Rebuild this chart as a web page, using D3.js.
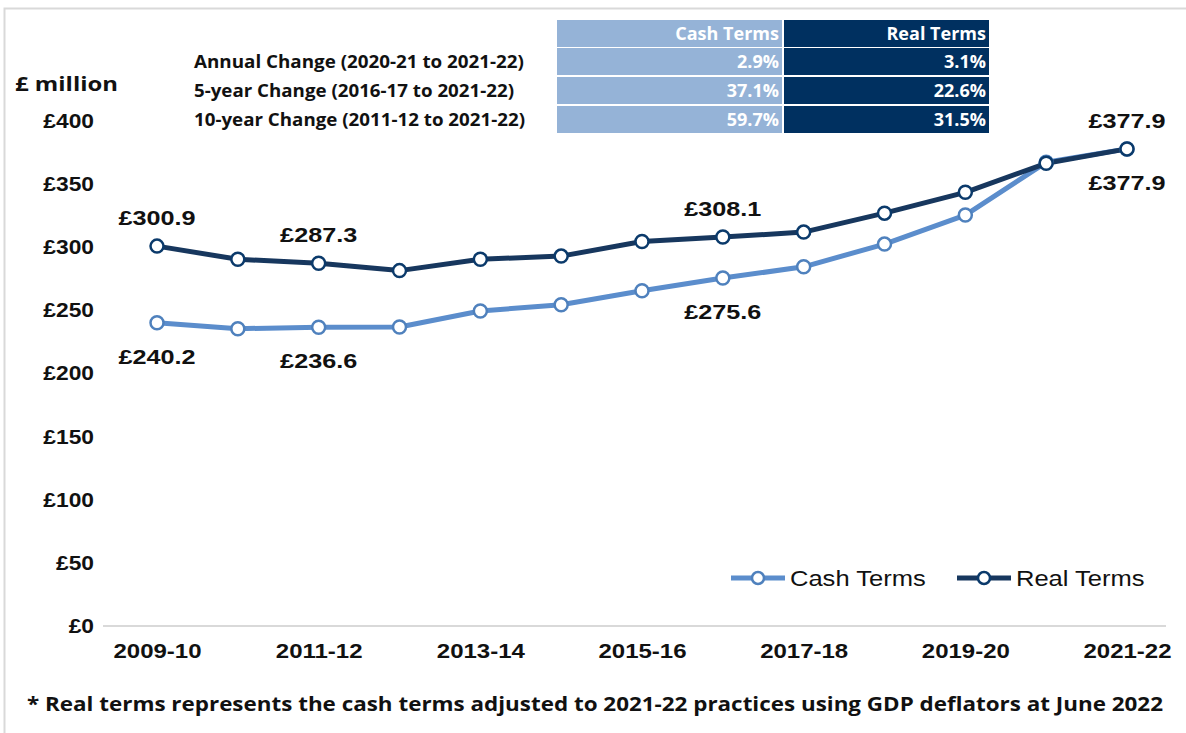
<!DOCTYPE html>
<html>
<head>
<meta charset="utf-8">
<script src="https://cdn.jsdelivr.net/npm/d3@7"></script>
<style>
  body { margin: 0; background: #fff; }
  svg { display: block; }
</style>
</head>
<body>
<div id="chart"></div>
<script>
// Data
const years = ["2009-10", "2010-11", "2011-12", "2012-13", "2013-14", "2014-15", "2015-16",
    "2016-17", "2017-18", "2018-19", "2019-20", "2020-21", "2021-22"];
const cashTerms = [240.2, 235.5, 236.6, 236.8, 249.5, 254.5, 265.5, 275.6, 284.5, 302.5, 325.5, 367.3, 377.9];
const realTerms = [300.9, 290.5, 287.3, 281.5, 290.5, 293.0, 304.5, 308.1, 312.0, 327.0, 343.5, 366.5, 377.9];
const yTicks = [0, 50, 100, 150, 200, 250, 300, 350, 400];
const xTickLabels = ["2009-10", "2011-12", "2013-14", "2015-16", "2017-18", "2019-20", "2021-22"];

// Labelled points: [year, value, series, position]
const pointLabels = [
    ["2009-10", 300.9, "real", "above"],
    ["2011-12", 287.3, "real", "above"],
    ["2016-17", 308.1, "real", "above"],
    ["2021-22", 377.9, "real", "above"],
    ["2009-10", 240.2, "cash", "below"],
    ["2011-12", 236.6, "cash", "below"],
    ["2016-17", 275.6, "cash", "below"],
    ["2021-22", 377.9, "cash", "below"]
];

// Summary table
const tableHeaders = ["Cash Terms", "Real Terms"];
const tableRowLabels = ["Annual Change (2020-21 to 2021-22)", "5-year Change (2016-17 to 2021-22)", "10-year Change (2011-12 to 2021-22)"];
const tableCash = ["2.9%", "37.1%", "59.7%"];
const tableReal = ["3.1%", "22.6%", "31.5%"];

const footnote = "* Real terms represents the cash terms adjusted to 2021-22 practices using GDP deflators at June 2022";

const W = 1186, H = 733;
const cashColor = "#5b8dcc", realColor = "#17375e";
const cashMarker = "#4f81bd", realMarker = "#0b3a6b";
const cashCell = "#95b3d7", realCell = "#003060";
const arial = "'Liberation Sans', Arial, sans-serif";
const calibri = "'Open Sans', 'Noto Sans', sans-serif";

// the source glyphs are a bit wider than ours, so widen text a little
function stretch(sel, k) {
    sel.each(function () {
        const len = this.getComputedTextLength();
        d3.select(this)
            .attr("textLength", len * k)
            .attr("lengthAdjust", "spacingAndGlyphs");
    });
}

const svg = d3.select("#chart").append("svg")
    .attr("width", W)
    .attr("height", H);

// Outer frame
svg.append("rect")
    .attr("x", 4.5).attr("y", 8.5)
    .attr("width", 1300).attr("height", 900)
    .attr("fill", "none")
    .attr("stroke", "#d9d9d9")
    .attr("stroke-width", 2);

// Scales
const x = d3.scalePoint()
    .domain(years)
    .range([157, 1127]);

const y = d3.scaleLinear()
    .domain([0, 400])
    .range([626, 121]);

// Baseline
svg.append("line")
    .attr("x1", 103).attr("x2", 1166)
    .attr("y1", y(0)).attr("y2", y(0))
    .attr("stroke", "#d9d9d9")
    .attr("stroke-width", 2);

// Y axis labels
const yAxis = svg.append("g")
    .attr("transform", "translate(94,0)")
    .call(d3.axisLeft(y).tickValues(yTicks).tickSize(0).tickPadding(0).tickFormat(d => "£" + d));
yAxis.select(".domain").remove();
yAxis.selectAll("text")
    .attr("font-family", arial)
    .attr("font-size", 20)
    .attr("font-weight", "bold")
    .attr("fill", "#111")
    .call(stretch, 1.14);

// X axis labels
const xAxis = svg.append("g")
    .attr("transform", "translate(0,644)")
    .call(d3.axisBottom(x).tickValues(xTickLabels).tickSize(0).tickPadding(0));
xAxis.select(".domain").remove();
xAxis.selectAll("text")
    .attr("font-family", arial)
    .attr("font-size", 20)
    .attr("font-weight", "bold")
    .attr("fill", "#111")
    .call(stretch, 1.2);

// Axis title
svg.append("text")
    .attr("x", 15).attr("y", 91)
    .attr("font-family", calibri)
    .attr("font-size", 20)
    .attr("font-weight", "bold")
    .attr("fill", "#111")
    .attr("textLength", 103)
    .attr("lengthAdjust", "spacingAndGlyphs")
    .text("£ million");

// Lines
const line = d3.line()
    .x((d, i) => x(years[i]))
    .y(d => y(d));

const series = [
    { key: "cash", values: cashTerms, color: cashColor, marker: cashMarker },
    { key: "real", values: realTerms, color: realColor, marker: realMarker }
];

series.forEach(s => {
    svg.append("path")
        .datum(s.values)
        .attr("fill", "none")
        .attr("stroke", s.color)
        .attr("stroke-width", 5)
        .attr("stroke-linejoin", "round")
        .attr("d", line);
});

series.forEach(s => {
    svg.selectAll(null)
        .data(s.values)
        .enter()
        .append("circle")
        .attr("cx", (d, i) => x(years[i]))
        .attr("cy", d => y(d))
        .attr("r", 6.5)
        .attr("fill", "#fff")
        .attr("stroke", s.marker)
        .attr("stroke-width", 2.5);
});

// Data labels
svg.selectAll(null)
    .data(pointLabels)
    .enter()
    .append("text")
    .attr("x", d => x(d[0]))
    .attr("y", d => d[3] === "above" ? y(d[1]) - 21 : y(d[1]) + 41)
    .attr("text-anchor", "middle")
    .attr("font-family", arial)
    .attr("font-size", 21)
    .attr("font-weight", "bold")
    .attr("fill", "#111")
    .text(d => "£" + d[1].toFixed(1))
    .call(stretch, 1.2);

// Legend
const legend = [
    { name: "Cash Terms", color: cashColor, marker: cashMarker, x: 731 },
    { name: "Real Terms", color: realColor, marker: realMarker, x: 957 }
];
legend.forEach(l => {
    const g = svg.append("g").attr("transform", `translate(${l.x},578)`);
    g.append("line")
        .attr("x1", 0).attr("x2", 54)
        .attr("stroke", l.color)
        .attr("stroke-width", 5);
    g.append("circle")
        .attr("cx", 27).attr("r", 6)
        .attr("fill", "#fff")
        .attr("stroke", l.marker)
        .attr("stroke-width", 2.5);
    g.append("text")
        .attr("x", 59).attr("y", 8)
        .attr("font-family", arial)
        .attr("font-size", 22)
        .attr("fill", "#111")
        .text(l.name)
        .call(stretch, 1.16);
});

// Summary table
const colX = [557, 784];
const colW = [225, 205];
const rowY = [20, 48, 77, 106];
const rowH = 27;

const tableRows = [tableHeaders].concat(tableCash.map((c, i) => [c, tableReal[i]]));
tableRows.forEach((row, r) => {
    row.forEach((val, c) => {
        svg.append("rect")
            .attr("x", colX[c]).attr("y", rowY[r])
            .attr("width", colW[c]).attr("height", rowH)
            .attr("fill", c === 0 ? cashCell : realCell);
        svg.append("text")
            .attr("x", colX[c] + colW[c] - 3)
            .attr("y", rowY[r] + 20)
            .attr("text-anchor", "end")
            .attr("font-family", calibri)
            .attr("font-size", 17)
            .attr("font-weight", "bold")
            .attr("fill", "#fff")
            .text(val)
            .call(stretch, 1.06);
    });
});

tableRowLabels.forEach((lab, i) => {
    svg.append("text")
        .attr("x", 194)
        .attr("y", rowY[i + 1] + 20)
        .attr("font-family", calibri)
        .attr("font-size", 17)
        .attr("font-weight", "bold")
        .attr("fill", "#111")
        .attr("textLength", i === 2 ? 331 : (i === 0 ? 330 : 320))
        .attr("lengthAdjust", "spacingAndGlyphs")
        .text(lab);
});

// Footnote
svg.append("text")
    .attr("x", 27).attr("y", 711)
    .attr("font-family", calibri)
    .attr("font-size", 19)
    .attr("font-weight", "bold")
    .attr("fill", "#111")
    .attr("textLength", 1136)
    .attr("lengthAdjust", "spacingAndGlyphs")
    .text(footnote);
</script>
</body>
</html>
